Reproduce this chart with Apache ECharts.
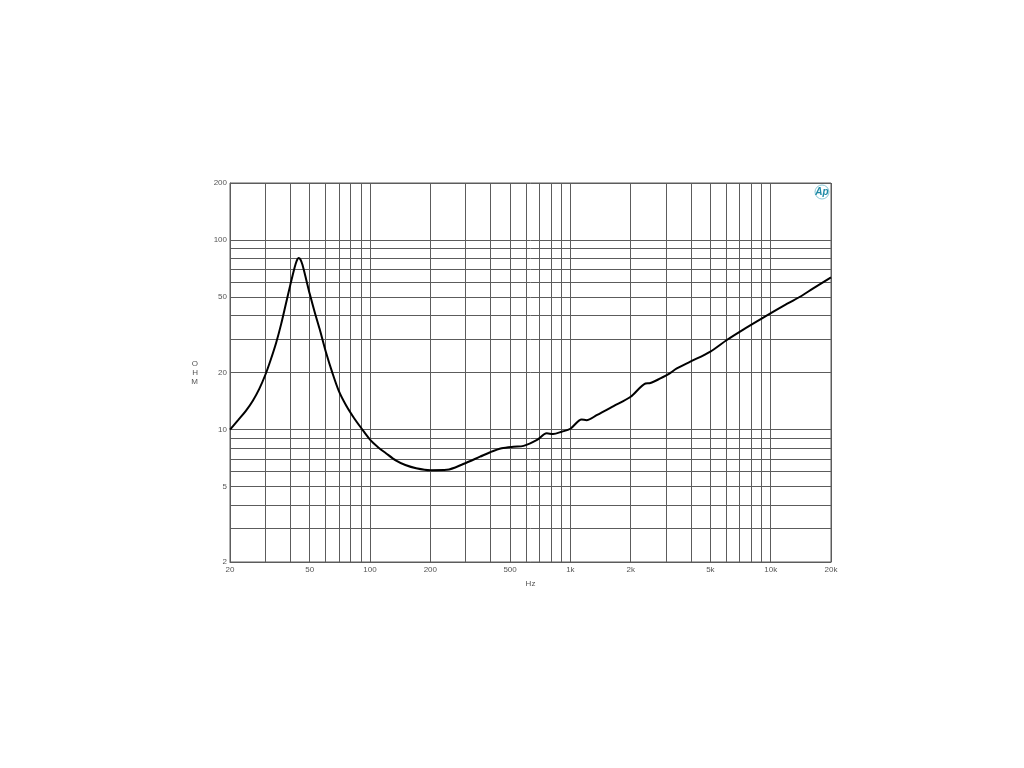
<!DOCTYPE html>
<html>
<head>
<meta charset="utf-8">
<script src="https://cdn.jsdelivr.net/npm/echarts@6/dist/echarts.min.js"></script>
<style>html,body{margin:0;padding:0;background:#fff}#c{width:1024px;height:768px}</style>
</head>
<body>
<div id="c"></div>
<script>
const freqHz = [20, 22, 24, 26, 28, 30, 32, 34, 36, 38, 40, 42, 43, 44, 45, 46, 48, 50, 53, 56, 60, 65, 70, 76, 83, 90, 100, 110, 120, 135, 150, 170, 200, 242, 292, 354, 398, 454, 520, 584, 682, 762, 820, 906, 1000, 1138, 1204, 1352, 1643, 2000, 2371, 2510, 2810, 3090, 3400, 3970, 5000, 6040, 7230, 9050, 11400, 14000, 16300, 20000];
const impedanceOhm = [10, 11.25, 12.55, 14.2, 16.4, 19.4, 23.5, 28.7, 36, 46, 58, 71.5, 77.5, 80.5, 78.8, 74, 62, 52, 41.5, 34, 26, 19.8, 15.9, 13.4, 11.55, 10.25, 8.85, 8.05, 7.5, 6.85, 6.5, 6.25, 6.1, 6.13, 6.58, 7.19, 7.59, 7.96, 8.12, 8.2, 8.81, 9.55, 9.47, 9.74, 10.1, 11.3, 11.2, 11.9, 13.3, 14.9, 17.5, 17.6, 18.6, 19.6, 21, 22.8, 25.8, 29.7, 33.5, 38.6, 44.5, 50.2, 55.6, 63.6];
const xGridValues = [20, 30, 40, 50, 60, 70, 80, 90, 100, 200, 300, 400, 500, 600, 700, 800, 900, 1000, 2000, 3000, 4000, 5000, 6000, 7000, 8000, 9000, 10000, 20000];
const xTickLabels = [20, 50, 100, 200, 500, 1000, 2000, 5000, 10000, 20000];
const yGridValues = [2, 3, 4, 5, 6, 7, 8, 9, 10, 20, 30, 40, 50, 60, 70, 80, 90, 100, 200];
const yTickLabels = [2, 5, 10, 20, 50, 100, 200];

const data = freqHz.map((f, i) => [f, impedanceOhm[i]]);
const gridColor = '#5c5c5c';
const labelStyle = { color: '#555', fontSize: 8, fontFamily: 'Liberation Sans, Arial, sans-serif' };

const chart = echarts.init(document.getElementById('c'), null, { renderer: 'canvas' });
chart.setOption({
  animation: false,
  backgroundColor: '#fff',
  grid: { left: 230, right: 193, top: 183, bottom: 206, show: true, borderColor: gridColor, borderWidth: 1 },
  xAxis: {
    type: 'log', logBase: 10, min: 20, max: 20000,
    name: 'Hz', nameLocation: 'middle', nameGap: 18, nameTextStyle: labelStyle,
    axisLine: { show: true, lineStyle: { color: gridColor } },
    axisTick: { show: false, customValues: xGridValues },
    axisLabel: Object.assign({ customValues: xTickLabels, margin: 4,
      formatter: v => v >= 1000 ? (v / 1000) + 'k' : String(v) }, labelStyle),
    splitLine: { show: true, lineStyle: { color: gridColor, width: 1 } }
  },
  yAxis: {
    type: 'log', logBase: 10, min: 2, max: 200,
    name: 'O\nH\nM', nameLocation: 'middle', nameRotate: 0, nameGap: 32,
    nameTextStyle: Object.assign({ lineHeight: 9 }, labelStyle),
    axisLine: { show: true, lineStyle: { color: gridColor } },
    axisTick: { show: false, customValues: yGridValues },
    axisLabel: Object.assign({ customValues: yTickLabels, margin: 3 }, labelStyle),
    splitLine: { show: true, lineStyle: { color: gridColor, width: 1 } }
  },
  graphic: [
    { type: 'circle', shape: { cx: 822, cy: 192, r: 7 }, style: { fill: 'none', stroke: '#8cc8d6', lineWidth: 1 } },
    { type: 'text', x: 822, y: 192, style: { text: 'Ap', fill: '#1f8aa6', font: 'italic bold 10px Liberation Sans, Arial, sans-serif', align: 'center', verticalAlign: 'middle' } }
  ],
  series: [{
    type: 'line', data: data, showSymbol: false, smooth: 0.3,
    lineStyle: { color: '#000', width: 2 }
  }]
});
</script>
</body>
</html>
